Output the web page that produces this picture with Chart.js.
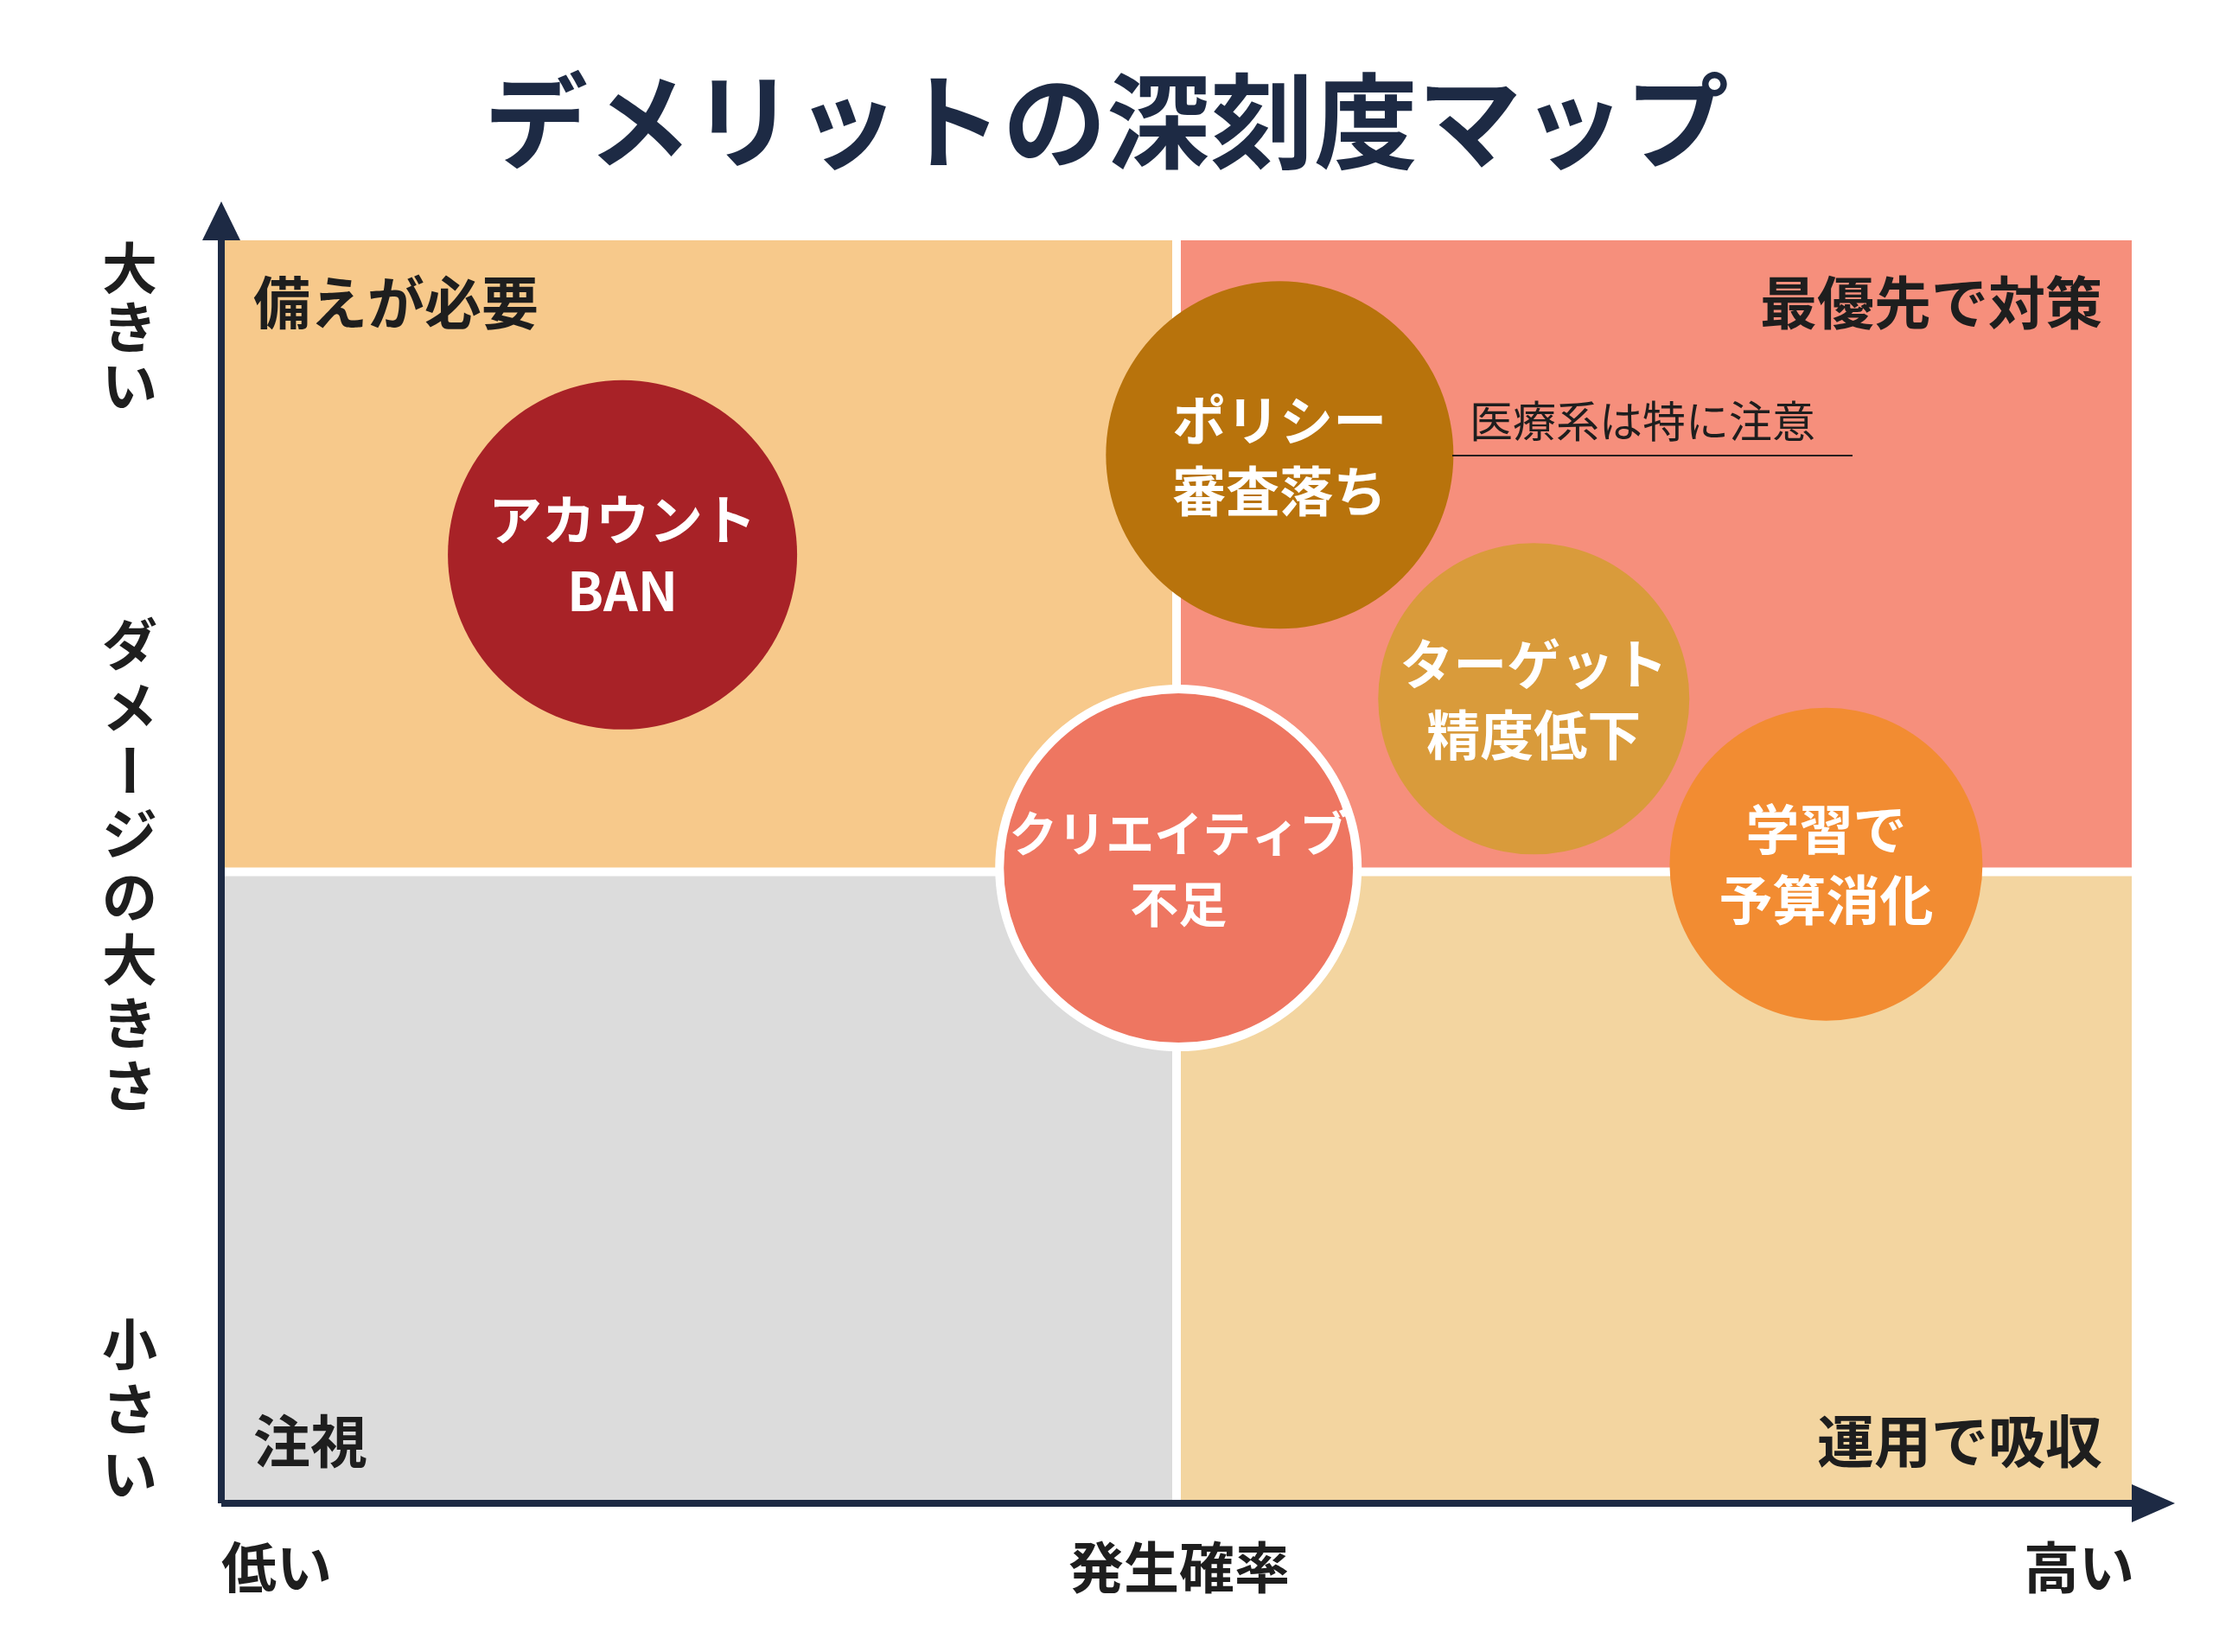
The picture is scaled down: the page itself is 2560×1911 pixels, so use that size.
<!DOCTYPE html>
<html>
<head>
<meta charset="utf-8">
<script src="https://cdn.jsdelivr.net/npm/chart.js@4/dist/chart.umd.min.js"></script>
<style>
  html, body { margin: 0; padding: 0; background: #ffffff; }
  canvas { display: block; }
</style>
</head>
<body>
<canvas id="map" width="2560" height="1911"></canvas>
<script>
// risks: probability (x, 0-100), damage (y, 0-100)
var riskNames = [['アカウント', 'BAN'], ['ポリシー', '審査落ち'], ['ターゲット', '精度低下'], ['クリエイティブ', '不足'], ['学習で', '予算消化']];
var riskProb = [21, 55.4, 68.7, 50.1, 84];
var riskDamage = [75.1, 83, 63.7, 50.3, 50.6];
var riskSize = [202, 201, 180, 207, 181];
var riskColors = ['#a82227', '#b8730c', '#d99b3b', '#ee7661', '#f28c32'];
var quadLabels = ['備えが必要', '最優先で対策', '注視', '運用で吸収'];
var quadColors = ['#f7c98b', '#f68f7c', '#dcdcdc', '#f3d5a0'];

var navy = '#1d2a44';
var jp = '"Noto Sans CJK JP", "Noto Sans", sans-serif';

var backdrop = {
	id: 'backdrop',
	beforeDatasetsDraw: function(chart) {
		var c = chart.ctx, a = chart.chartArea;
		var mx = chart.scales.x.getPixelForValue(50);
		var my = chart.scales.y.getPixelForValue(50);
		c.save();
		c.fillStyle = quadColors[0]; c.fillRect(a.left, a.top, mx - a.left, my - a.top);
		c.fillStyle = quadColors[1]; c.fillRect(mx, a.top, a.right - mx, my - a.top);
		c.fillStyle = quadColors[2]; c.fillRect(a.left, my, mx - a.left, a.bottom - my);
		c.fillStyle = quadColors[3]; c.fillRect(mx, my, a.right - mx, a.bottom - my);
		c.strokeStyle = '#ffffff'; c.lineWidth = 10;
		c.beginPath(); c.moveTo(mx, a.top); c.lineTo(mx, a.bottom);
		c.moveTo(a.left, my); c.lineTo(a.right, my); c.stroke();

		// quadrant labels
		c.fillStyle = '#1e1e1e';
		c.font = 'bold 66px ' + jp;
		c.textBaseline = 'middle';
		c.textAlign = 'left';
		c.fillText(quadLabels[0], a.left + 37, a.top + 72);
		c.fillText(quadLabels[2], a.left + 37, a.bottom - 72);
		c.textAlign = 'right';
		c.fillText(quadLabels[1], a.right - 34, a.top + 72);
		c.fillText(quadLabels[3], a.right - 34, a.bottom - 72);

		// axes with arrows
		c.strokeStyle = navy; c.fillStyle = navy; c.lineWidth = 8;
		c.beginPath(); c.moveTo(a.left, a.bottom); c.lineTo(a.left, a.top - 10);
		c.moveTo(a.left, a.bottom); c.lineTo(a.right + 10, a.bottom); c.stroke();
		c.beginPath(); c.moveTo(a.left, a.top - 45); c.lineTo(a.left - 22, a.top); c.lineTo(a.left + 22, a.top); c.fill();
		c.beginPath(); c.moveTo(a.right + 50, a.bottom); c.lineTo(a.right, a.bottom - 22); c.lineTo(a.right, a.bottom + 22); c.fill();
		c.restore();
	},
	afterDatasetsDraw: function(chart) {
		var c = chart.ctx;
		var meta = chart.getDatasetMeta(0);
		c.save();
		c.fillStyle = '#ffffff';
		c.textAlign = 'center'; c.textBaseline = 'middle';
		meta.data.forEach(function(pt, i) {
			c.font = 'bold ' + (i === 3 ? 56 : 62) + 'px ' + jp;
			c.fillText(riskNames[i][0], pt.x, pt.y - 40);
			c.fillText(riskNames[i][1], pt.x, pt.y + 42);
		});

		// note next to policy bubble
		c.fillStyle = '#1e1e1e';
		c.font = '50px ' + jp;
		c.textAlign = 'left';
		c.fillText('医療系は特に注意', 1700, 487);
		c.strokeStyle = '#1e1e1e'; c.lineWidth = 2;
		c.beginPath(); c.moveTo(1680, 527); c.lineTo(2143, 527); c.stroke();

		// title
		c.fillStyle = navy;
		c.font = 'bold 120px ' + jp;
		c.textAlign = 'center';
		c.fillText('デメリットの深刻度マップ', 1280, 140);

		// x axis labels
		c.fillStyle = '#1e1e1e';
		c.font = 'bold 64px ' + jp;
		c.fillText('低い', 320, 1813);
		c.fillText('発生確率', 1364, 1813);
		c.fillText('高い', 2405, 1813);

		// y axis labels, vertical
		var vert = function(str, x, y0, step) {
			for (var k = 0; k < str.length; k++) {
				var ch = str[k], y = y0 + k * step;
				if (ch === 'ー') {
					c.save(); c.translate(x, y); c.rotate(Math.PI / 2);
					c.fillText(ch, 0, 0); c.restore();
				} else {
					c.fillText(ch, x, y);
				}
			}
		};
		vert('大きい', 150, 310, 68);
		vert('ダメージの大きさ', 150, 745, 73);
		vert('小さい', 150, 1555, 75);
		c.restore();
	}
};

new Chart(document.getElementById('map'), {
	type: 'bubble',
	data: {
		datasets: [{
			data: riskProb.map(function(x, i) {
				return { x: x, y: riskDamage[i], r: riskSize[i] };
			}),
			backgroundColor: riskColors,
			borderColor: riskColors.map(function(col, i) { return i === 3 ? '#ffffff' : col; }),
			borderWidth: riskColors.map(function(col, i) { return i === 3 ? 10 : 0; }),
			hoverRadius: 0
		}]
	},
	options: {
		responsive: false,
		animation: false,
		devicePixelRatio: 1,
		clip: false,
		layout: { autoPadding: false, padding: { left: 256, right: 94, top: 278, bottom: 172 } },
		scales: {
			x: { min: 0, max: 100, display: false },
			y: { min: 0, max: 100, display: false }
		},
		plugins: { legend: { display: false }, tooltip: { enabled: false } }
	},
	plugins: [backdrop]
});
</script>
</body>
</html>
